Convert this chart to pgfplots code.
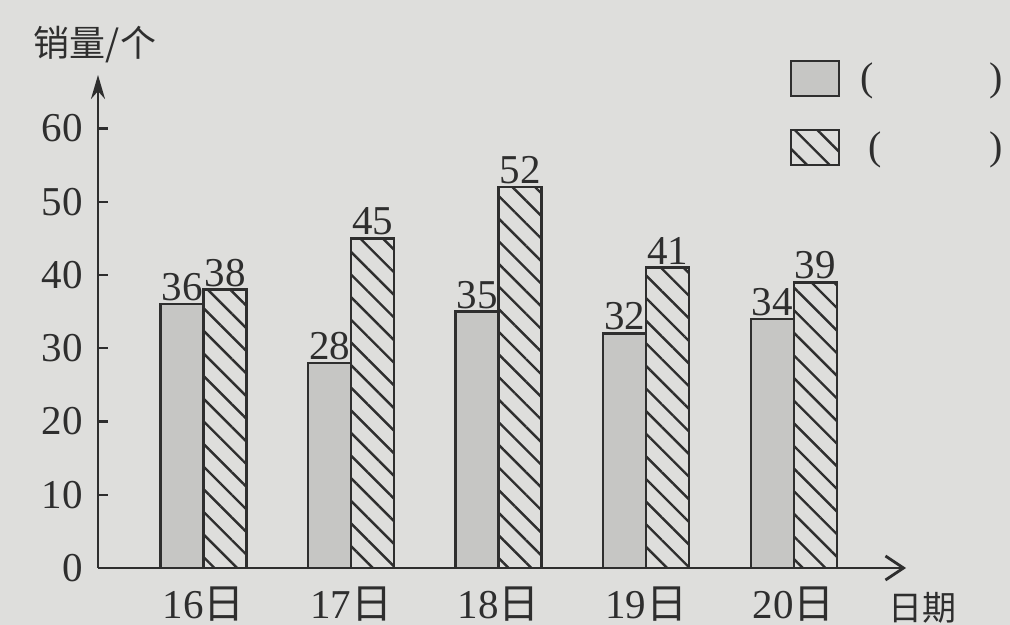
\documentclass[border=0pt]{standalone}
\usepackage{fontspec}
\setmainfont{Liberation Serif}
\newfontfamily\cjk{Noto Sans CJK SC}
\usepackage{pgfplots}
\pgfplotsset{compat=1.18}
\usetikzlibrary{patterns.meta,arrows.meta}
\definecolor{paper}{HTML}{DEDEDC}
\definecolor{barg}{HTML}{C6C6C4}
\definecolor{ink}{HTML}{2E2E2E}
\begin{document}
\begin{tikzpicture}[x=0.5pt,y=0.5pt]
\fill[paper] (-98,-57) rectangle (912,568);
\useasboundingbox (-98,-57) rectangle (912,568);
\begin{axis}[
  at={(0,0)}, anchor=south west,
  scale only axis, width=404pt, height=246.5pt,
  xmin=-0.715, xmax=4.76, ymin=0, ymax=67.3,
  axis lines=left,
  axis line style={ink, line width=1.4pt},
  x axis line style={-{Straight Barb[length=9pt,width=12pt,line width=1.4pt]}},
  y axis line style={-{Stealth[length=12pt,width=7pt]}},
  ybar=0pt, bar width=21.5pt,
  xtick=data, xticklabels={16{\cjk 日},17{\cjk 日},18{\cjk 日},19{\cjk 日},20{\cjk 日}},
  x tick style={draw=none},
  ytick={0,10,20,30,40,50,60},
  tick align=inside, major tick length=5pt,
  y tick style={ink, line width=1.2pt},
  tick label style={font=\fontsize{20.5}{20.5}\selectfont, text=ink},
  /pgf/number format/assume math mode=true,
  xticklabel style={yshift=-6pt},
  yticklabel style={xshift=-4pt},
  nodes near coords,
  every node near coord/.append style={font=\fontsize{20.5}{20.5}\selectfont, text=ink, inner sep=1pt},
  legend style={at={(0.856,1.033)}, anchor=north west, draw=none, fill=none,
    font=\fontsize{20}{20}\selectfont, text=ink, inner sep=0pt, row sep=15pt,
    legend cell align=left},
  legend image code/.code={\draw[#1] (0pt,-8.75pt) rectangle (24pt,8.75pt);},
  clip=false,
]
\addplot[draw=ink, line width=1.2pt, fill=barg] coordinates {(0,36) (1,28) (2,35) (3,32) (4,34)};
\addplot[draw=ink, line width=1.2pt, pattern={Lines[angle=-45,distance=8pt,line width=1.2pt]}, pattern color=ink] coordinates {(0,38) (1,45) (2,52) (3,41) (4,39)};
\legend{\hspace{8pt}(\hspace{58pt}),\hspace{12pt}(\hspace{54pt})}
\end{axis}
\node[text=ink, font=\cjk\fontsize{18}{18}\selectfont] at (-3,523) {销量/个};
\node[text=ink, font=\cjk\fontsize{17}{17}\selectfont] at (824,-40) {日期};
\end{tikzpicture}
\end{document}
